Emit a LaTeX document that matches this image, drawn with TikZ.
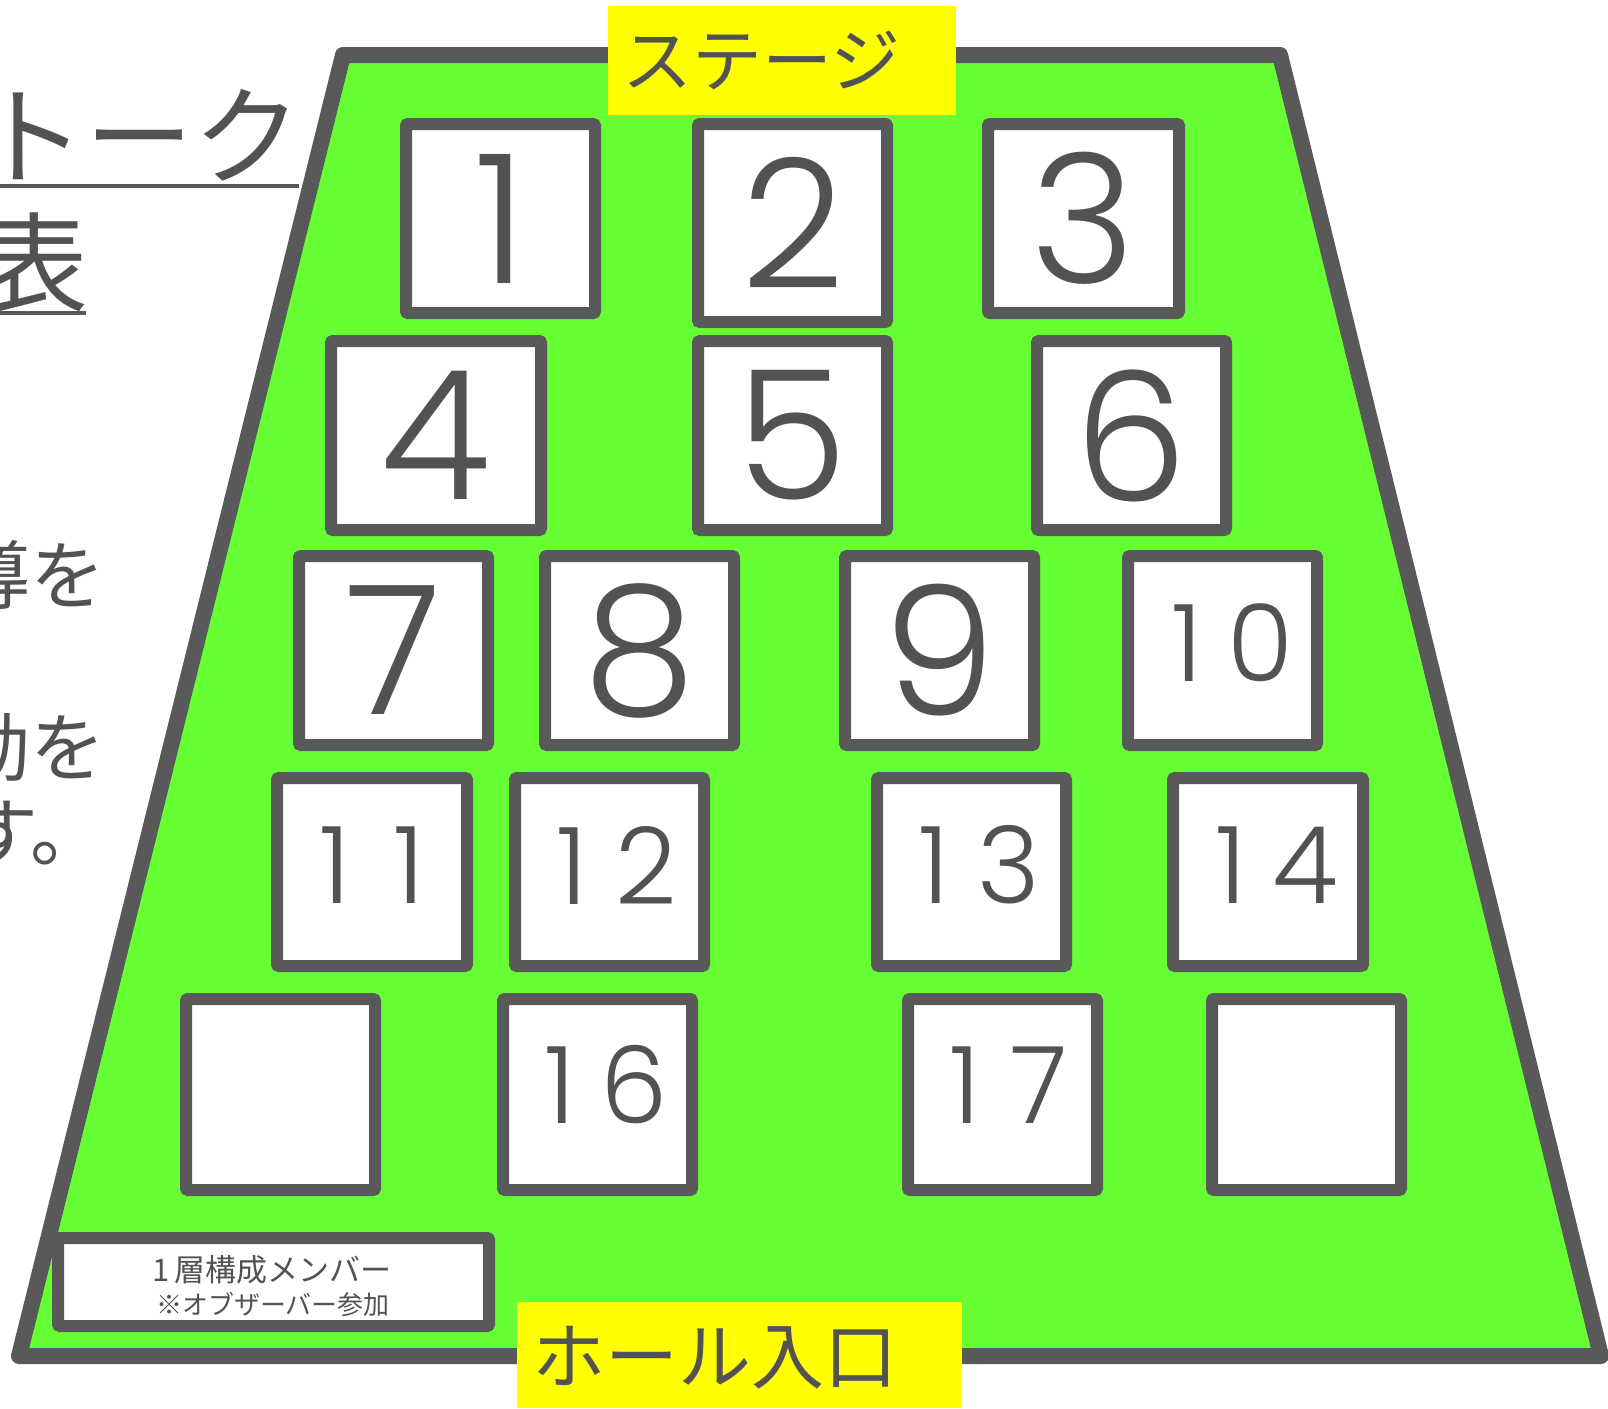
\documentclass[tikz,border=0pt]{standalone}
\usepackage{fontspec}
\setmainfont{Noto Sans CJK JP}
\newfontfamily\numfont{Poppins Light}
\definecolor{edgegray}{HTML}{595959}
\definecolor{txtgray}{HTML}{525252}
\definecolor{floorgreen}{HTML}{66FF33}
\definecolor{labelyellow}{HTML}{FFFF00}
\newcommand{\dg}[1]{\makebox[74pt]{#1}}
\tikzset{
  seat/.style={draw=edgegray, line width=12, fill=white, rounded corners=2, inner sep=0, text=txtgray},
  big/.style={font=\numfont\fontsize{180}{180}\selectfont},
  small/.style={font=\numfont\fontsize{107}{107}\selectfont, text=txtgray, inner sep=0},
  sidetxt/.style={inner sep=0, text=txtgray},
}
\begin{document}
\begin{tikzpicture}[x=1pt,y=-1pt]
\clip (0,0) rectangle (1608,1408);
\fill[white] (0,0) rectangle (1608,1408);
% floor
\draw[edgegray, fill=floorgreen, line width=16, line join=round]
  (343,55) -- (1280,55) -- (1601,1356) -- (19,1356) -- cycle;
% seats row 1
\node[seat, big, minimum width=189, minimum height=189] (s1) at (500.5,218.5) {1};
\node[seat, big, minimum width=189, minimum height=198] (s2) at (792.5,223) {2};
\node[seat, big, minimum width=191, minimum height=189] (s3) at (1083.5,218.5) {3};
% row 2
\node[seat, big, minimum width=210, minimum height=189] (s4) at (436,435.5) {4};
\node[seat, big, minimum width=189, minimum height=189] (s5) at (792.5,435.5) {5};
\node[seat, big, minimum width=189, minimum height=189] (s6) at (1131.5,435.5) {6};
% row 3
\node[seat, big, minimum width=189, minimum height=189] (s7) at (393.5,650.5) {7};
\node[seat, big, minimum width=189, minimum height=189] (s8) at (639.5,650.5) {8};
\node[seat, big, minimum width=189, minimum height=189] (s9) at (939.5,650.5) {9};
\node[seat, minimum width=189, minimum height=189] (s10) at (1222.5,650.5) {};
\node[small] (n10) at (1224,643) {\dg{1}\dg{0}};
% row 4
\node[seat, minimum width=190, minimum height=188] (s11) at (372,872) {};
\node[small] (n11) at (372,865) {\dg{1}\dg{1}};
\node[seat, minimum width=189, minimum height=188] (s12) at (609.5,872) {};
\node[small] (n12) at (609.5,865) {\dg{1}\dg{2}};
\node[seat, minimum width=189, minimum height=188] (s13) at (971.5,872) {};
\node[small] (n13) at (971.5,865) {\dg{1}\dg{3}};
\node[seat, minimum width=190, minimum height=188] (s14) at (1268,872) {};
\node[small] (n14) at (1268,865) {\dg{1}\dg{4}};
% row 5
\node[seat, minimum width=189, minimum height=191] (s15) at (280.5,1094.5) {};
\node[seat, minimum width=189, minimum height=191] (s16) at (597.5,1094.5) {};
\node[small] (n16) at (597.5,1085) {\dg{1}\dg{6}};
\node[seat, minimum width=189, minimum height=191] (s17) at (1002.5,1094.5) {};
\node[small] (n17) at (1002.5,1085) {\dg{1}\dg{7}};
\node[seat, minimum width=189, minimum height=191] (s18) at (1306.5,1094.5) {};
% info box
\node[seat, minimum width=431, minimum height=88] (info) at (273.5,1282) {};
\node[sidetxt, font=\fontsize{31}{31}\selectfont] (info1) at (272,1270) {1\kern4pt 層構成メンバー};
\node[sidetxt, font=\fontsize{26}{26}\selectfont] (info2) at (273,1304) {※オブザーバー参加};
% left texts
\node[sidetxt, anchor=west, font=\fontsize{108}{108}\selectfont] (t1) at (-23,135) {トーク};
\draw[edgegray, line width=4.5] (0,186) -- (299,186);
\node[sidetxt, anchor=east, font=\fontsize{108}{108}\selectfont] (t2) at (89,262) {表};
\draw[edgegray, line width=4.5] (0,313) -- (86,313);
\node[sidetxt, anchor=east, font=\fontsize{75}{75}\selectfont] (t3) at (106,575) {導を};
\node[sidetxt, anchor=east, font=\fontsize{75}{75}\selectfont] (t4) at (106,748) {動を};
\node[sidetxt, anchor=east, font=\fontsize{75}{75}\selectfont] (t5) at (106,833) {す。};
% yellow labels
\fill[labelyellow] (608,6) rectangle (956,115);
\node[sidetxt, anchor=west, font=\fontsize{70}{70}\selectfont] (stage) at (622,60) {ステージ};
\fill[labelyellow] (517,1302) rectangle (962,1408);
\node[sidetxt, anchor=west, font=\fontsize{73}{73}\selectfont] (hall) at (532,1358) {ホール入口};
\end{tikzpicture}
\end{document}
